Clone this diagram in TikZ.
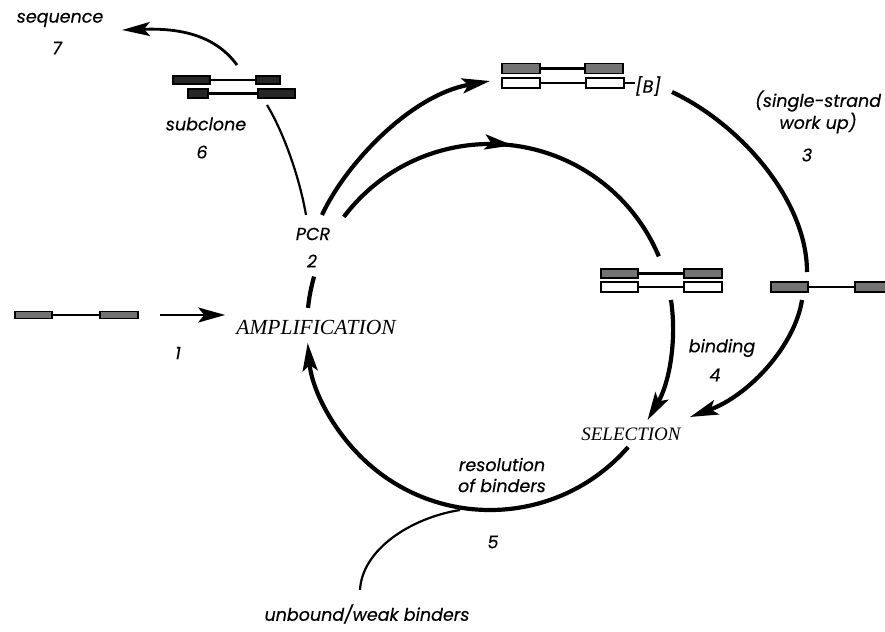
\documentclass[tikz,border=0pt]{standalone}
\usepackage{fontspec}
\newfontfamily\labfont{Poppins}[FakeBold=0.4]
\newfontfamily\capfont{Liberation Serif}
\usetikzlibrary{arrows.meta,decorations.markings,calc}
\begin{document}
\begin{tikzpicture}[x=1pt,y=-1pt,
  lab/.style={font=\labfont\itshape\fontsize{17.5}{21}\selectfont, inner sep=0pt},
  bigamp/.style={font=\capfont\itshape\fontsize{21.5}{24}\selectfont, inner sep=0pt},
  bigsel/.style={font=\capfont\itshape\fontsize{19}{22}\selectfont, inner sep=0pt},
  hatchbox/.style={draw=black, line width=1.4pt, fill=black!55, inner sep=0pt, minimum height=9pt},
  darkbox/.style={draw=black, line width=1.4pt, fill=black!85, inner sep=0pt, minimum height=8pt},
  openbox/.style={draw=black, line width=1.7pt, fill=white, inner sep=0pt, minimum height=9pt},
  link/.style={line width=2.4pt},
  heavy/.style={line width=4.2pt},
  thinline/.style={line width=2.2pt},
  tipped/.style={-{Stealth[length=28pt,width=15pt,inset=6pt]}},
  midtip/.style={postaction={decorate}, decoration={markings, mark=at position #1 with {\arrow{Stealth[length=28pt,width=15pt,inset=6pt]}}}}
]
\useasboundingbox (0,0) rectangle (885,631);
\clip (0,0) rectangle (885,631);

% centre of the main cycle
\coordinate (C) at (490,327);

% ---- text nodes
\node[lab] (seq) at (60,20) {sequence};
\node[lab] (n7) at (57,48) {7};
\node[lab] (sub) at (206,124) {subclone};
\node[lab] (n6) at (202,152) {6};
\node[lab] (pcr) at (313,234) {PCR};
\node[lab] (n2) at (312,261) {2};
\node[bigamp] (amp) at (316,327) {AMPLIFICATION};
\node[lab] (n1) at (178,353) {1};
\node[lab, align=center] (ss) at (818,112) {(single-strand\\work up)};
\node[lab] (n3) at (807,155) {3};
\node[lab] (bb) at (648,86) {[B]};
\node[lab] (bind) at (722,348) {binding};
\node[lab] (n4) at (715,375) {4};
\node[bigsel] (sel) at (631,434) {SELECTION};
\node[lab, align=center] (res) at (502,475) {resolution\\of binders};
\node[lab] (n5) at (493,542) {5};
\node[lab] (unb) at (367,614) {unbound/weak binders};

% ---- DNA: starting strand (1)
\node[hatchbox, minimum width=37pt, minimum height=7pt] (s1a) at (33.5,315) {};
\node[hatchbox, minimum width=38pt, minimum height=7pt] (s1b) at (119,315) {};
\draw[link] (s1a.east) -- (s1b.west);

% ---- subclone duplex (6)
\node[darkbox, minimum width=37pt] (q1) at (191.5,80) {};
\node[darkbox, minimum width=24pt] (q2) at (268,80) {};
\node[darkbox, minimum width=20pt, minimum height=9pt] (q3) at (198,93.5) {};
\node[darkbox, minimum width=37pt, minimum height=9pt] (q4) at (276.5,93.5) {};
\draw[link] (q1.east) -- (q2.west);
\draw[link] (q3.east) -- (q4.west);

% ---- top duplex with [B]
\node[hatchbox, minimum width=38pt, minimum height=10pt] (t1) at (521,68.5) {};
\node[hatchbox, minimum width=38pt, minimum height=10pt] (t2) at (604,68.5) {};
\node[openbox, minimum width=38pt, minimum height=10pt] (t3) at (521,83) {};
\node[openbox, minimum width=38pt, minimum height=10pt] (t4) at (605,83) {};
\draw[link] (t1.east) -- (t2.west);
\draw[link] (t3.east) -- (t4.west);
\draw[link] (t4.east) -- (t4.east -| bb.west);

% ---- middle duplex
\node[hatchbox, minimum width=37pt] (m1) at (619.5,273.5) {};
\node[hatchbox, minimum width=38pt] (m2) at (703,273.5) {};
\node[openbox, minimum width=37pt, minimum height=10pt] (m3) at (619.5,287) {};
\node[openbox, minimum width=38pt, minimum height=10pt] (m4) at (703,287) {};
\draw[link] (m1.east) -- (m2.west);
\draw[link] (m3.east) -- (m4.west);

% ---- single strand
\node[hatchbox, minimum width=37pt, minimum height=10pt] (r1) at (789.5,287) {};
\node[hatchbox, minimum width=38pt, minimum height=10pt] (r2) at (874,287) {};
\draw[link] (r1.east) -- (r2.west);

% ---- connectors
% 1 -> amplification
\draw[line width=2.8pt, -{Stealth[length=27pt,width=15pt,inset=6pt]}]
  ([xshift=21pt]s1b.east) -- ([xshift=-11pt]s1b.east -| amp.west);

% amplification -> PCR (short piece of the cycle)
\draw[heavy] ($(C)+(-164:183)$) arc[start angle=-164, end angle=-174, radius=183];

% PCR -> subclone (thin)
\coordinate (pa) at (306,215);
\coordinate (pb) at (267,105);
\draw[thinline] (pa) .. controls (300,180) and (285,135) .. (pb);

% subclone -> sequence
\coordinate (sa) at (237,65);
\coordinate (se) at (122,30);
\draw[line width=2.8pt, -{Stealth[length=28pt,width=14pt,inset=6pt]}]
  (sa) .. controls (215,35) and (180,28) .. (se);

% PCR -> top duplex (outer heavy arc)
\coordinate (oa) at (322,215);
\coordinate (ob) at (490,81);
\draw[heavy, tipped] (oa) .. controls (345,165) and (410,95) .. (ob);

% PCR -> middle duplex (inner cycle arc with mid arrow)
\draw[heavy, midtip=0.5] ($(C)+(-143:183)$) arc[start angle=-143, end angle=-22.7, radius=183];

% middle duplex -> selection
\draw[heavy, tipped] ($(C)+(-8.5:183)$) arc[start angle=-8.5, end angle=30.6, radius=183];

% selection -> amplification (bottom arc)
\draw[heavy, tipped] ($(C)+(41:183)$) arc[start angle=41, end angle=175, radius=183];

% [B] -> single strand -> selection (outer right arc)
\coordinate (ra) at (672,92);
\coordinate (rb) at (807,272);
\coordinate (rc) at (802,300);
\coordinate (rd) at (690,417);
\draw[heavy] (ra) .. controls (740,124) and (807,200) .. (rb);
\draw[heavy, tipped] (rc) .. controls (795,345) and (750,395) .. (rd);

% resolution -> unbound/weak binders (thin)
\coordinate (ua) at (460,510);
\coordinate (ub) at (360,590);
\draw[thinline] (ua) .. controls (410,518) and (362,550) .. (ub);
\end{tikzpicture}
\end{document}
